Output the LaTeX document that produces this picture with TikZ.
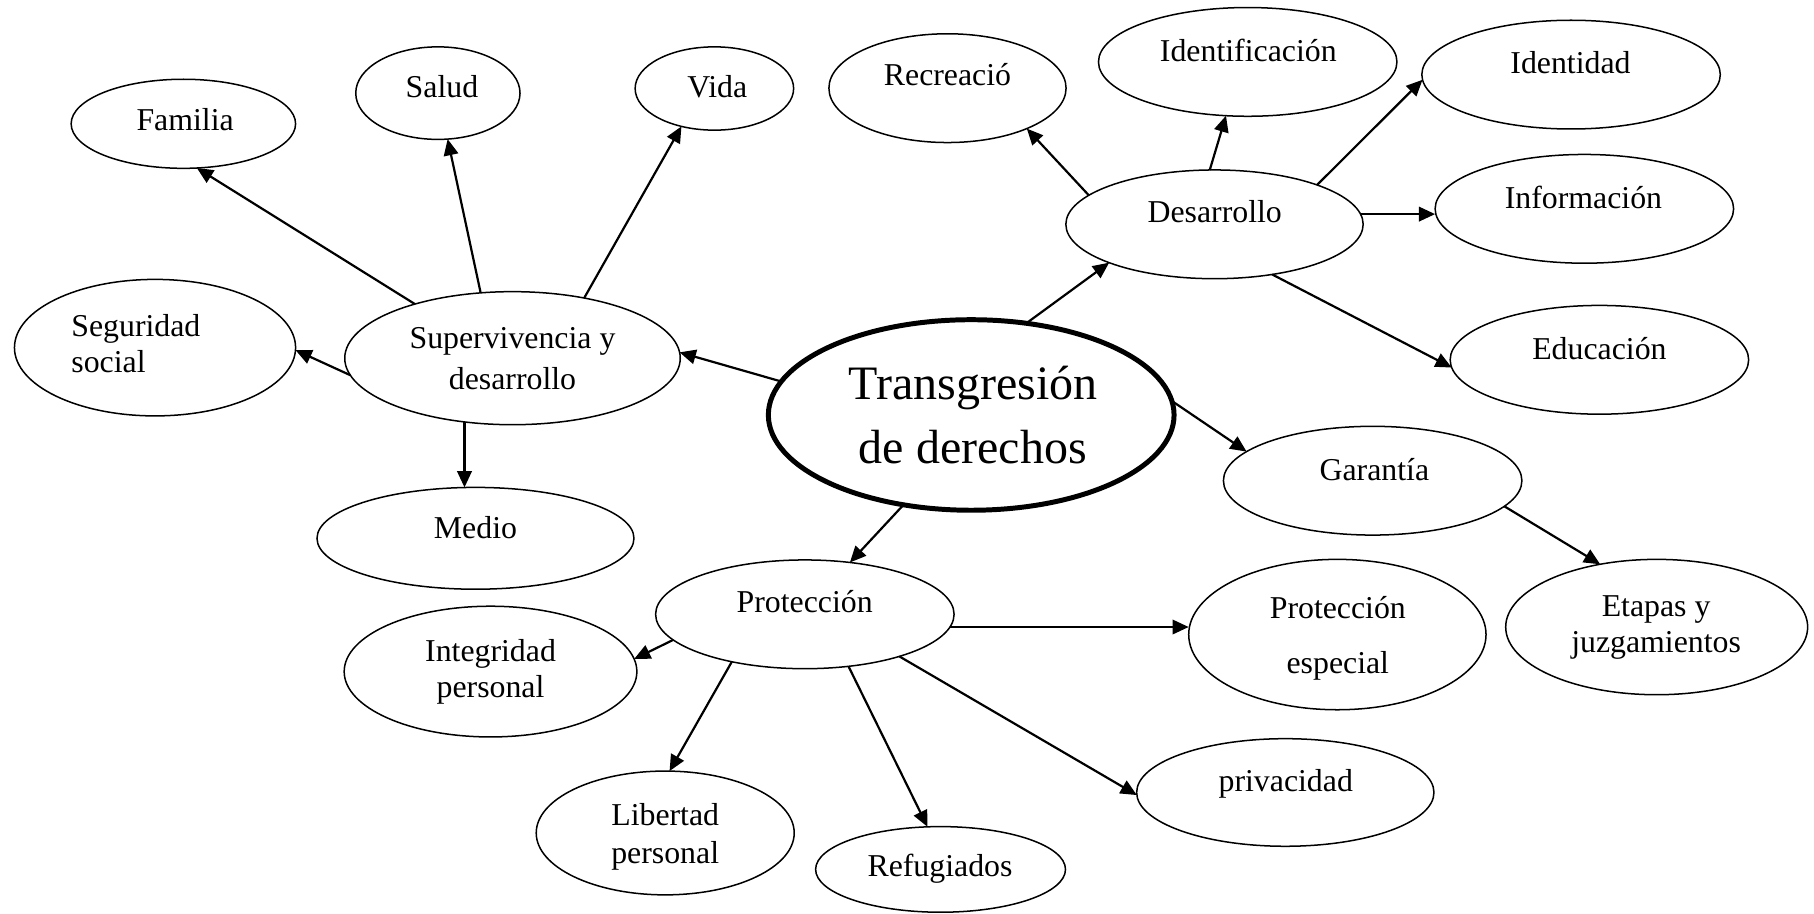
\documentclass[tikz,border=0pt]{standalone}
\usepackage{fontspec}
\setmainfont{Liberation Serif}
\usetikzlibrary{arrows.meta,shapes.geometric}
\newcommand{\twoc}[4]{{\fontsize{#1}{#2}\selectfont\begin{tabular}[t]{@{}c@{}}#3\\#4\end{tabular}}}
\newcommand{\twol}[4]{{\fontsize{#1}{#2}\selectfont\begin{tabular}[t]{@{}l@{}}#3\\#4\end{tabular}}}
\tikzset{
  bub/.style={ellipse, draw, line width=1.3pt, inner sep=0pt, outer sep=0pt},
  bigbub/.style={ellipse, draw, line width=4.3pt, inner sep=0pt, outer sep=0pt},
  txt/.style={inner sep=0pt, anchor=base, font=\fontsize{27.5}{36}\selectfont},
  arr/.style={line width=1.9pt, -{Triangle[length=14pt,width=12.5pt]}},
}
\begin{document}
\begin{tikzpicture}[x=1pt,y=-1pt]
\useasboundingbox (0,0) rectangle (1568,790);
% ellipses
\node[bub, minimum width=194pt, minimum height=77pt] (fam) at (158.5,107) {};
\node[bub, minimum width=142pt, minimum height=80pt] (sal) at (378.5,80.5) {};
\node[bub, minimum width=137pt, minimum height=72pt] (vida) at (617.5,76.5) {};
\node[bub, minimum width=205pt, minimum height=94pt] (rec) at (819,76.2) {};
\node[bub, minimum width=258pt, minimum height=94pt] (idf) at (1078.5,53.5) {};
\node[bub, minimum width=258pt, minimum height=94pt] (idd) at (1358,64.5) {};
\node[bub, minimum width=257pt, minimum height=94pt] (des) at (1049.8,193.9) {};
\node[bub, minimum width=258pt, minimum height=94pt] (inf) at (1369.5,180.5) {};
\node[bub, minimum width=258pt, minimum height=94pt] (edu) at (1382.5,311) {};
\node[bub, minimum width=243pt, minimum height=118pt] (seg) at (134,300.5) {};
\node[bub, minimum width=290pt, minimum height=115pt] (sup) at (443,309.6) {};
\node[bigbub, minimum width=350.7pt, minimum height=164.7pt] (tra) at (839.5,358.7) {};
\node[bub, minimum width=274pt, minimum height=88pt] (med) at (411,465.3) {};
\node[bub, minimum width=258pt, minimum height=94pt] (gar) at (1186.5,415.5) {};
\node[bub, minimum width=258pt, minimum height=94pt] (pro) at (695.7,531) {};
\node[bub, minimum width=253pt, minimum height=113pt] (int) at (424,580.5) {};
\node[bub, minimum width=257pt, minimum height=130pt] (pesp) at (1156,548.5) {};
\node[bub, minimum width=261pt, minimum height=117pt] (eta) at (1432,542) {};
\node[bub, minimum width=257pt, minimum height=93pt] (priv) at (1111,685) {};
\node[bub, minimum width=223pt, minimum height=107pt] (lib) at (575,720) {};
\node[bub, minimum width=216pt, minimum height=74pt] (ref) at (813,751.5) {};
% texts
\node[txt] (tfam) at (160,112.5) {Familia};
\node[txt] (tsal) at (382,84) {Salud};
\node[txt] (tvida) at (620,84) {Vida};
\node[txt] (trec) at (819,73.5) {Recreació};
\node[txt] (tidf) at (1079,53) {Identificación};
\node[txt] (tidd) at (1357.5,63.5) {Identidad};
\node[txt] (tdes) at (1050,192.5) {Desarrollo};
\node[txt] (tinf) at (1368.7,180) {Información};
\node[txt] (tedu) at (1382.5,311) {Educación};
\node[txt, anchor=base west] (tseg) at (61.5,291) {\twol{27.5}{31}{Seguridad}{social}};
\node[txt] (tsup) at (443,301) {\twoc{27.5}{36}{Supervivencia y}{desarrollo}};
\node[txt] (ttra) at (841,345.7) {\twoc{41.5}{54.7}{Transgresión}{de derechos}};
\node[txt] (tmed) at (411,465.5) {Medio};
\node[txt] (tgar) at (1188,415) {Garantía};
\node[txt] (tpro) at (695.5,529.5) {Protección};
\node[txt] (tint) at (424,572.2) {\twoc{27.5}{31}{Integridad}{personal}};
\node[txt] (tpesp) at (1156.4,534.7) {\twoc{27.5}{47.6}{Protección}{especial}};
\node[txt] (teta) at (1431.5,532.7) {\twoc{27.5}{31.7}{Etapas y}{juzgamientos}};
\node[txt] (tpriv) at (1111.4,684) {privacidad};
\node[txt] (tlib) at (575,713.3) {\twoc{27.5}{32.7}{Libertad}{personal}};
\node[txt] (tref) at (812.5,758) {Refugiados};
% connectors
\draw[arr] (tra.170) -- (sup.2.6);
\draw[arr] (sup.151.2) -- (fam.-73.6);
\draw[arr] (sup.116.9) -- (sal.-78.4);
\draw[arr] (sup.40.3) -- (vida.-131.1);
\draw[arr] (sup.-174.8) -- (seg.-1.2);
\draw[arr] (sup.-127) -- (sup.-127 |- med.north);
\draw[arr] (tra.-127.4) -- (pro.49.7);
\draw[arr] (pro.-169.2) -- (int.5.6);
\draw[arr] (pro.-147.3) -- (lib.86.3);
\draw[arr] (pro.-50.6) -- (ref.107.3);
\draw[arr] (pro.-24.9) -- (priv.-179.6);
\draw[arr] (pro.-5) -- (pro.-5 -| pesp.west);
\draw[arr] (tra.4.7) -- (gar.167.9);
\draw[arr] (gar.-11.1) -- (eta.132.1);
\draw[arr] (tra.59.4) -- (des.-160.7);
\draw[arr] (des.167) -- (rec.-27.2);
\draw[arr] (des.95.3) -- (idf.-112.4);
\draw[arr] (des.21.5) -- (idd.-178);
\draw[arr] (des.4.5) -- (des.4.5 -| inf.west);
\draw[arr] (des.-41.4) -- (edu.-177);
\end{tikzpicture}
\end{document}
